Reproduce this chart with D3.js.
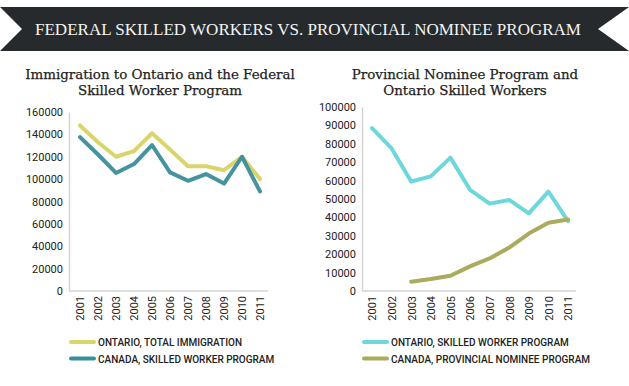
<!DOCTYPE html>
<html>
<head>
<meta charset="utf-8">
<script src="https://cdn.jsdelivr.net/npm/d3@7"></script>
<style>
  body { margin: 0; background: #fff; }
  .tick text { font-family: "Roboto", sans-serif; font-size: 11px; fill: #222; }
  .ctitle { font-family: "DejaVu Serif", serif; font-size: 13.4px; fill: #222; stroke: #222; stroke-width: 0.25px; }
  .legend { font-family: "Roboto", sans-serif; font-size: 10px; fill: #222; font-weight: 500; }
</style>
</head>
<body>
<div id="chart"></div>
<script>
var svgWidth = 629;
var svgHeight = 386;

var years = ["2001","2002","2003","2004","2005","2006","2007","2008","2009","2010","2011"];

// left chart
var ontarioTotal = [148000, 133000, 120000, 125000, 141000, 126500, 111500, 111500, 108000, 120000, 100000];
var canadaFSW = [137500, 122000, 105500, 113500, 130500, 106000, 98500, 104500, 96000, 120000, 89000];
var leftTicks = [0, 20000, 40000, 60000, 80000, 100000, 120000, 140000, 160000];

// right chart (PNP starts 2003)
var ontarioSkilled = [88500, 77500, 59500, 62300, 72500, 55000, 47500, 49500, 42200, 54000, 38000];
var canadaPNP = [null, null, 5000, 6500, 8300, 13400, 17700, 23600, 31200, 37100, 38900];
var rightTicks = [0, 10000, 20000, 30000, 40000, 50000, 60000, 70000, 80000, 90000, 100000];

var svg = d3.select("#chart")
  .append("svg")
  .attr("width", svgWidth)
  .attr("height", svgHeight);

// banner with notched ends
svg.append("path")
  .attr("d", "M0,7 L629,7 L598,29 L629,51 L0,51 L22,29 Z")
  .attr("fill", "#262a2d");

svg.append("text")
  .attr("x", 308)
  .attr("y", 35)
  .attr("text-anchor", "middle")
  .attr("font-family", "Liberation Serif, serif")
  .attr("font-size", 16)
  .attr("fill", "#f4f4f4")
  .attr("textLength", 546)
  .attr("lengthAdjust", "spacingAndGlyphs")
  .text("FEDERAL SKILLED WORKERS VS. PROVINCIAL NOMINEE PROGRAM");

function drawChart(opt) {
  var g = svg.append("g");

  var x = d3.scalePoint().domain(years).range([opt.x0, opt.x1]);
  var y = d3.scaleLinear().domain([0, opt.max]).range([291, opt.top]);

  opt.title.forEach(function(t, i) {
    g.append("text")
      .attr("class", "ctitle")
      .attr("x", opt.titleX)
      .attr("y", 79 + i * 16)
      .attr("text-anchor", "middle")
      .text(t);
  });

  var yAxis = g.append("g")
    .attr("transform", `translate(${opt.axisX},0)`)
    .call(d3.axisLeft(y).tickValues(opt.ticks).tickSize(0).tickPadding(6).tickFormat(d3.format("d")));
  yAxis.select(".domain").attr("stroke", "#d4d4d4").attr("stroke-width", 1.5);

  var xAxis = g.append("g")
    .attr("transform", "translate(0,291)")
    .call(d3.axisBottom(x).tickSize(0));
  xAxis.select(".domain")
    .attr("d", `M${opt.axisX},0H${opt.axisEnd}`)
    .attr("stroke", "#d4d4d4").attr("stroke-width", 1.5);
  xAxis.selectAll("text")
    .attr("transform", "rotate(-90)")
    .attr("text-anchor", "end")
    .attr("x", -5)
    .attr("y", 0)
    .attr("dy", "0.35em");

  var line = d3.line()
    .defined(d => d != null)
    .x((d, i) => x(years[i]))
    .y(d => y(d));

  opt.series.forEach(function(s, k) {
    g.append("path")
      .datum(s.values)
      .attr("fill", "none")
      .attr("stroke", s.color)
      .attr("stroke-width", 4)
      .attr("stroke-linejoin", "round")
      .attr("stroke-linecap", "round")
      .attr("opacity", s.opacity || 1)
      .attr("d", line);

    var ly = 342 + k * 16.5;
    g.append("line")
      .attr("x1", opt.axisX + 2).attr("x2", opt.axisX + 25)
      .attr("y1", ly).attr("y2", ly)
      .attr("stroke", s.color).attr("stroke-width", 4)
      .attr("stroke-linecap", "round");
    g.append("text")
      .attr("class", "legend")
      .attr("x", opt.axisX + 29)
      .attr("y", ly + 4)
      .text(s.name);
  });
}

drawChart({
  title: ["Immigration to Ontario and the Federal", "Skilled Worker Program"],
  titleX: 160,
  axisX: 69, axisEnd: 268,
  x0: 80, x1: 260,
  top: 112, max: 160000,
  ticks: leftTicks,
  series: [
    { name: "ONTARIO, TOTAL IMMIGRATION", values: ontarioTotal, color: "#d9d56c" },
    { name: "CANADA, SKILLED WORKER PROGRAM", values: canadaFSW, color: "#3a8d9c", opacity: 0.95 }
  ]
});

drawChart({
  title: ["Provincial Nominee Program and", "Ontario Skilled Workers"],
  titleX: 465,
  axisX: 362, axisEnd: 576,
  x0: 372, x1: 568,
  top: 107, max: 100000,
  ticks: rightTicks,
  series: [
    { name: "ONTARIO, SKILLED WORKER PROGRAM", values: ontarioSkilled, color: "#6dd7dc" },
    { name: "CANADA, PROVINCIAL NOMINEE PROGRAM", values: canadaPNP, color: "#aaab5c" }
  ]
});
</script>
</body>
</html>
